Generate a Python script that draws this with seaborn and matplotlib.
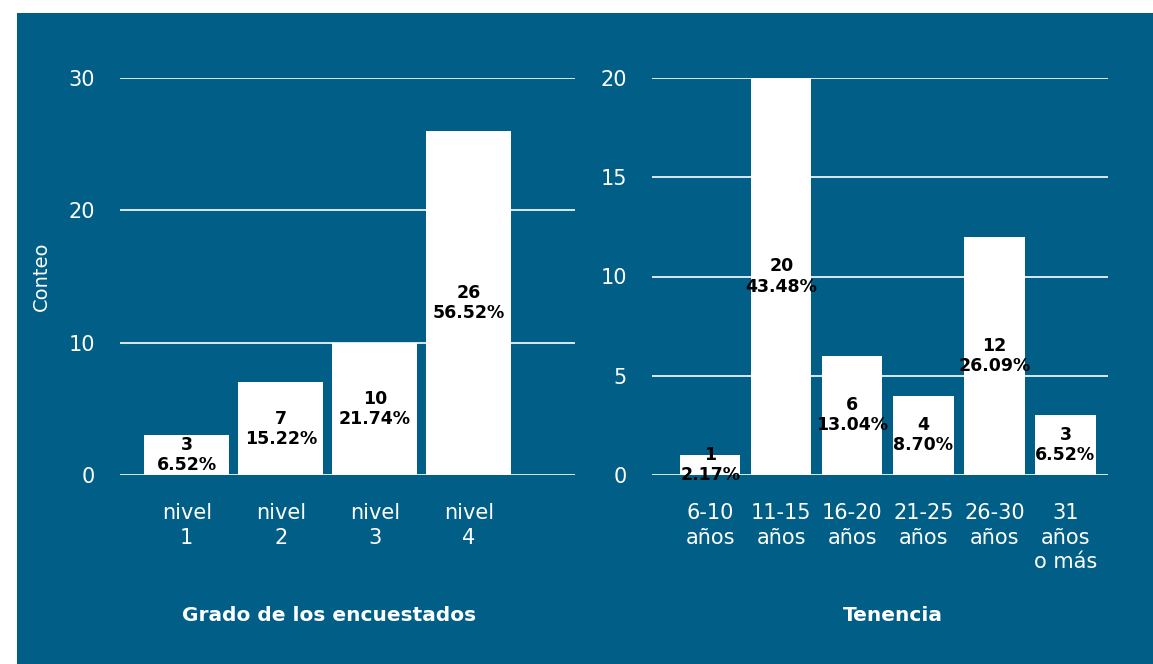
import matplotlib
matplotlib.use("Agg")
import matplotlib.pyplot as plt
import seaborn as sns
import pandas as pd
from matplotlib.patches import Rectangle

# Datos
grados = ['nivel\n1', 'nivel\n2', 'nivel\n3', 'nivel\n4']
conteo_grado = [3, 7, 10, 26]
pct_grado = [6.52, 15.22, 21.74, 56.52]

tenencia = ['6-10\naños', '11-15\naños', '16-20\naños', '21-25\naños',
            '26-30\naños', '31\naños\no más']
conteo_ten = [1, 20, 6, 4, 12, 3]
pct_ten = [2.17, 43.48, 13.04, 8.70, 26.09, 6.52]

FONDO = '#015f87'

sns.set_theme(style='white')
plt.rcParams['font.family'] = ['DejaVu Sans']

fig = plt.figure(figsize=(11.53, 6.64), dpi=100, facecolor='white')
# panel azul de fondo (margen blanco arriba y a la izquierda)
fig.patches.append(Rectangle((17 / 1153, 0), 1, 1 - 13 / 664, transform=fig.transFigure,
                             facecolor=FONDO, edgecolor='none', zorder=-5))

ax1 = fig.add_axes([120 / 1153, 1 - 475 / 664, 455 / 1153, 397 / 664])
ax2 = fig.add_axes([652 / 1153, 1 - 475 / 664, 456 / 1153, 397 / 664])


def dibujar(ax, cats, conteos, pcts, ancho, xlim, ylim, yticks, xlabel, xlab_x):
    df = pd.DataFrame({'cat': cats, 'conteo': conteos})
    ax.set_facecolor('none')
    sns.barplot(data=df, x='cat', y='conteo', ax=ax, color='white',
                saturation=1, width=ancho, zorder=3, linewidth=0)
    etiquetas = [f'{c}\n{p:.2f}%' for c, p in zip(conteos, pcts)]
    ax.bar_label(ax.containers[0], labels=etiquetas, label_type='center',
                 fontsize=12.5, fontweight='bold', color='black', linespacing=1.15)
    ax.set_xlim(*xlim)
    ax.set_ylim(*ylim)
    ax.set_yticks(yticks)
    ax.yaxis.grid(True, color='white', linewidth=1.2, zorder=1)
    ax.xaxis.grid(False)
    for s in ax.spines.values():
        s.set_visible(False)
    ax.tick_params(axis='y', length=0, pad=18, labelsize=15, colors='white')
    ax.tick_params(axis='x', length=0, pad=20, labelsize=15, colors='white')
    plt.setp(ax.get_xticklabels(), linespacing=1.3)
    ax.set_xlabel(xlabel, fontsize=14.5, fontweight='bold', color='white')
    ax.xaxis.set_label_coords(xlab_x, -0.33)
    ax.set_ylabel('')


dibujar(ax1, grados, conteo_grado, pct_grado, 0.9, (-0.71, 4.13), (0, 30),
        [0, 10, 20, 30], 'Grado de los encuestados', 0.459)
dibujar(ax2, tenencia, conteo_ten, pct_ten, 0.85, (-0.82, 5.6), (0, 20),
        [0, 5, 10, 15, 20], 'Tenencia', 0.529)

ax1.set_ylabel('Conteo', fontsize=14, color='white')
ax1.yaxis.set_label_coords(-0.152, 0.5)

plt.savefig('out.png', dpi=100, facecolor='white')
